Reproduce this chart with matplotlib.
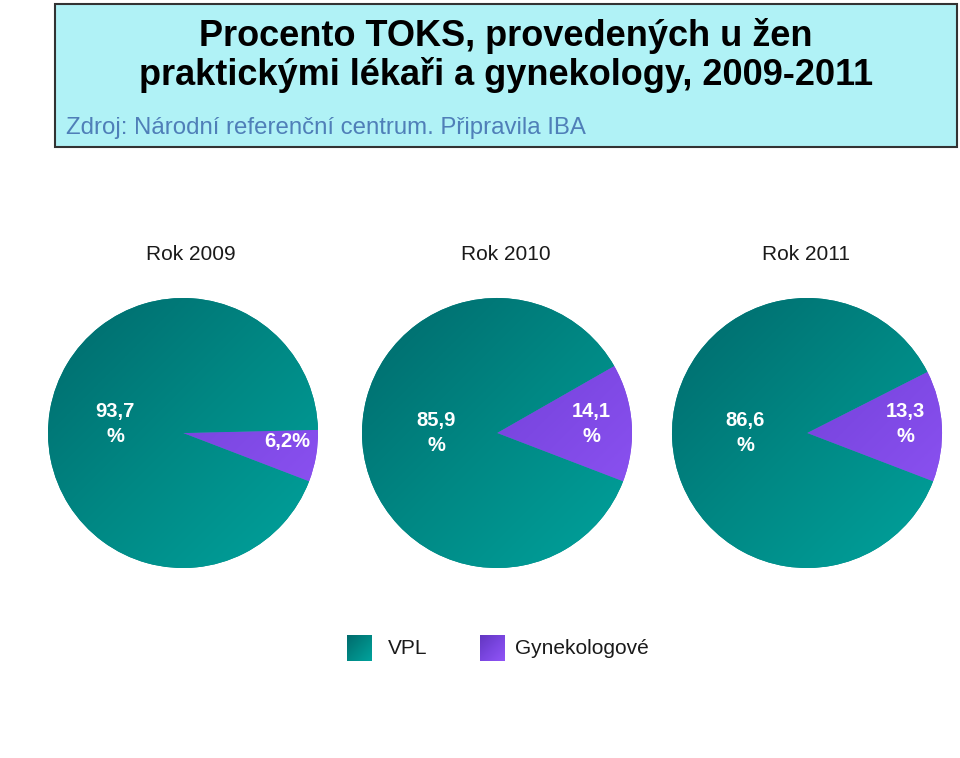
import numpy as np
import matplotlib
matplotlib.use("Agg")
import matplotlib.pyplot as plt
from matplotlib.patches import Rectangle
from matplotlib.colors import LinearSegmentedColormap

plt.rcParams['font.family'] = ['Liberation Sans', 'DejaVu Sans']

# ---- data ----
years = ["Rok 2009", "Rok 2010", "Rok 2011"]
vpl = [93.7, 85.9, 86.6]
gyn = [6.2, 14.1, 13.3]
vpl_labels = ["93,7\n%", "85,9\n%", "86,6\n%"]
gyn_labels = ["6,2%", "14,1\n%", "13,3\n%"]
series_names = ["VPL", "Gynekologové"]
title_lines = ["Procento TOKS, provedených u žen",
               "praktickými lékaři a gynekology, 2009-2011"]
subtitle = "Zdroj: Národní referenční centrum. Připravila IBA"

W, H = 960, 758
fig = plt.figure(figsize=(9.6, 7.58), dpi=100)
ax = fig.add_axes([0, 0, 1, 1])

teal_cmap = LinearSegmentedColormap.from_list("teal", ["#006a6c", "#008884", "#00a39d"])
purple_cmap = LinearSegmentedColormap.from_list("purp", ["#6236c0", "#7a46e0", "#9155f7"])

centers_x = [183, 497, 807]
cy = H - 433
R = 135
vpl_off = [(-68, 9), (-61, 0), (-62, 0)]
gyn_off = [(104, -9), (94, 9), (98, 9)]

def gradient_img():
    n = 200
    xs = np.linspace(-1, 1, n)
    X, Y = np.meshgrid(xs, xs)
    T = (X - Y) / 2.0
    T = (T - T.min()) / (T.max() - T.min())
    return T

for i in range(3):
    cx = centers_x[i]
    wedges, _ = ax.pie([gyn[i], vpl[i]], center=(cx, cy), radius=R,
                       startangle=-21, counterclock=True,
                       colors=["#7a46e0", "#008884"],
                       wedgeprops=dict(linewidth=0))
    for w, cmap in zip(wedges, [purple_cmap, teal_cmap]):
        im = ax.imshow(gradient_img(), cmap=cmap,
                       extent=[cx - R, cx + R, cy - R, cy + R], origin='lower',
                       interpolation='bilinear', zorder=w.get_zorder() + 0.1)
        im.set_clip_path(w)
    ax.text(cx + vpl_off[i][0], cy + vpl_off[i][1], vpl_labels[i],
            ha='center', va='center', color='white', fontsize=14.5,
            fontweight='bold', zorder=5, linespacing=1.35)
    ax.text(cx + gyn_off[i][0], cy + gyn_off[i][1], gyn_labels[i],
            ha='center', va='center', color='white', fontsize=14.5,
            fontweight='bold', zorder=5, linespacing=1.35)

# year titles
year_x = [191, 506, 806]
for x, t in zip(year_x, years):
    ax.text(x, H - 254, t, ha='center', va='center', fontsize=15, color='#1a1a1a')

# title box
ax.add_patch(Rectangle((55, H - 147), 902, 143, facecolor='#b0f2f6',
                       edgecolor='#333333', linewidth=1.5, zorder=1))
for line, base in zip(title_lines, [46, 85]):
    ax.text(506, H - base, line, ha='center', va='baseline', fontsize=26,
            fontweight='bold', color='black', zorder=2)
ax.text(66, H - 128, subtitle, ha='left', va='center', fontsize=17.3,
        color='#4f7fb8', zorder=2)

# legend
leg_items = [(347, 388, series_names[0], teal_cmap),
             (480, 515, series_names[1], purple_cmap)]
for x, tx, name, cmap in leg_items:
    ax.imshow(gradient_img(), cmap=cmap, extent=[x, x + 25, H - 661, H - 635],
              origin='lower', interpolation='bilinear', zorder=3)
    ax.text(tx, H - 648, name, ha='left', va='center', fontsize=15,
            color='#1a1a1a')

ax.set_xlim(0, W)
ax.set_ylim(0, H)
ax.set_aspect('auto')
ax.axis('off')

fig.savefig("out.png", dpi=100)
